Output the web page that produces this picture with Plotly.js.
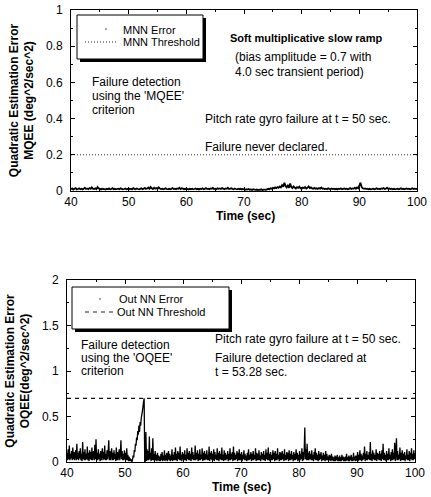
<!DOCTYPE html>
<html>
<head>
<meta charset="utf-8">
<script src="https://cdn.plot.ly/plotly-3.0.1.min.js"></script>
<style>html,body{margin:0;padding:0;background:#fff;}#chart{width:431px;height:497px;}</style>
</head>
<body>
<div id="chart"></div>
<script>
// Sampling grids (start, step in sec)
const topStart = 40, topStep = 0.2;
const botStart = 40, botStep = 0.1;

// MQEE (top panel) values, deg^2/sec^2, every 0.2 sec from 40 to 100
const mqee = [
0.010,0.014,0.008,0.012,0.016,0.009,0.011,0.015,0.010,0.013,
0.009,0.012,0.018,0.011,0.014,0.010,0.016,0.012,0.020,0.013,
0.011,0.015,0.010,0.022,0.014,0.012,0.009,0.013,0.011,0.010,
0.008,0.012,0.010,0.014,0.009,0.011,0.016,0.010,0.012,0.009,
0.011,0.013,0.010,0.015,0.012,0.009,0.011,0.014,0.010,0.012,
0.009,0.013,0.011,0.010,0.016,0.012,0.010,0.014,0.011,0.009,
0.012,0.015,0.010,0.013,0.017,0.011,0.014,0.019,0.012,0.022,
0.015,0.011,0.018,0.013,0.016,0.012,0.020,0.014,0.011,0.013,
0.010,0.012,0.015,0.011,0.009,0.013,0.010,0.012,0.016,0.011,
0.013,0.010,0.014,0.012,0.018,0.011,0.015,0.013,0.010,0.012,
0.009,0.011,0.008,0.012,0.010,0.013,0.009,0.011,0.014,0.010,
0.012,0.009,0.013,0.011,0.015,0.010,0.012,0.016,0.011,0.013,
0.010,0.014,0.012,0.017,0.011,0.013,0.010,0.015,0.012,0.014,
0.011,0.016,0.013,0.010,0.014,0.012,0.018,0.011,0.013,0.015,
0.012,0.010,0.014,0.011,0.009,0.013,0.010,0.012,0.008,0.011,
0.009,0.007,0.010,0.008,0.011,0.007,0.009,0.006,0.010,0.008,
0.006,0.008,0.005,0.007,0.006,0.009,0.005,0.007,0.008,0.006,
0.009,0.012,0.010,0.015,0.013,0.018,0.014,0.020,0.016,0.022,
0.018,0.025,0.020,0.032,0.024,0.045,0.028,0.020,0.030,0.018,
0.042,0.022,0.016,0.025,0.019,0.014,0.021,0.017,0.024,0.015,
0.013,0.019,0.016,0.022,0.014,0.018,0.025,0.016,0.020,0.014,
0.012,0.017,0.013,0.015,0.011,0.016,0.013,0.019,0.012,0.014,
0.011,0.013,0.010,0.015,0.012,0.010,0.014,0.011,0.013,0.010,
0.012,0.009,0.013,0.011,0.015,0.010,0.012,0.014,0.011,0.013,
0.010,0.012,0.016,0.011,0.014,0.012,0.018,0.013,0.020,0.015,
0.030,0.046,0.022,0.015,0.012,0.014,0.011,0.013,0.010,0.012,
0.009,0.011,0.013,0.010,0.012,0.015,0.011,0.013,0.010,0.014,
0.012,0.016,0.011,0.013,0.018,0.012,0.014,0.011,0.013,0.010,
0.012,0.009,0.011,0.013,0.010,0.012,0.015,0.011,0.013,0.010,
0.012,0.014,0.011,0.013,0.010,0.012,0.015,0.011,0.013,0.012,
0.011
];

// OQEE (bottom panel) values, deg^2/sec^2, every 0.1 sec from 40 to 100
const oqee = [
0.10,0.02,0.14,0.03,0.18,0.02,0.09,0.04,0.12,0.02,
0.16,0.03,0.11,0.02,0.08,0.13,0.02,0.20,0.03,0.10,
0.02,0.12,0.04,0.15,0.02,0.09,0.01,0.22,0.03,0.11,
0.02,0.14,0.02,0.09,0.03,0.17,0.02,0.10,0.01,0.13,
0.03,0.11,0.02,0.16,0.02,0.08,0.12,0.02,0.19,0.03,
0.25,0.02,0.10,0.02,0.14,0.03,0.09,0.01,0.12,0.02,
0.08,0.15,0.02,0.11,0.03,0.18,0.02,0.09,0.02,0.13,
0.03,0.10,0.24,0.02,0.12,0.02,0.08,0.15,0.02,0.10,
0.02,0.13,0.03,0.09,0.01,0.16,0.02,0.11,0.02,0.08,
0.14,0.02,0.10,0.24,0.03,0.12,0.02,0.09,0.02,0.13,
0.03,0.10,0.02,0.15,0.02,0.08,0.01,0.06,0.01,0.04,
0.01,0.03,0.00,0.03,0.07,0.05,0.13,0.11,0.20,0.18,
0.27,0.24,0.34,0.30,0.40,0.33,0.44,0.40,0.48,0.52,
0.56,0.61,0.66,0.70,0.00,0.01,0.33,0.01,0.14,0.02,
0.12,0.02,0.28,0.03,0.10,0.01,0.15,0.02,0.26,0.02,
0.09,0.01,0.12,0.02,0.08,0.01,0.10,0.02,0.07,0.01,
0.06,0.01,0.09,0.02,0.11,0.01,0.07,0.02,0.13,0.01,
0.08,0.02,0.10,0.01,0.06,0.12,0.02,0.09,0.01,0.07,
0.02,0.14,0.01,0.08,0.02,0.11,0.02,0.16,0.02,0.09,
0.01,0.12,0.03,0.10,0.02,0.17,0.02,0.08,0.01,0.11,
0.03,0.09,0.02,0.13,0.02,0.08,0.01,0.15,0.03,0.10,
0.02,0.12,0.02,0.09,0.01,0.16,0.03,0.11,0.02,0.08,
0.02,0.18,0.02,0.10,0.03,0.13,0.01,0.09,0.02,0.14,
0.02,0.08,0.03,0.15,0.01,0.10,0.02,0.12,0.02,0.09,
0.03,0.13,0.02,0.08,0.02,0.17,0.01,0.10,0.03,0.12,
0.02,0.09,0.02,0.14,0.01,0.11,0.03,0.08,0.02,0.15,
0.02,0.10,0.01,0.12,0.03,0.09,0.02,0.16,0.02,0.08,
0.01,0.13,0.02,0.10,0.02,0.08,0.03,0.12,0.01,0.09,
0.02,0.15,0.02,0.09,0.03,0.11,0.01,0.17,0.02,0.10,
0.02,0.08,0.03,0.12,0.01,0.10,0.02,0.14,0.02,0.09,
0.02,0.11,0.01,0.08,0.03,0.13,0.02,0.09,0.02,0.07,
0.01,0.10,0.02,0.14,0.02,0.08,0.03,0.11,0.01,0.09,
0.02,0.12,0.02,0.08,0.03,0.15,0.01,0.10,0.02,0.09,
0.02,0.13,0.02,0.07,0.01,0.11,0.03,0.09,0.02,0.12,
0.02,0.08,0.01,0.14,0.03,0.10,0.02,0.16,0.02,0.09,
0.01,0.11,0.02,0.08,0.02,0.13,0.03,0.10,0.01,0.12,
0.02,0.09,0.02,0.15,0.03,0.08,0.01,0.11,0.02,0.10,
0.02,0.12,0.03,0.09,0.01,0.14,0.02,0.08,0.02,0.11,
0.03,0.10,0.01,0.13,0.02,0.09,0.02,0.12,0.03,0.08,
0.01,0.11,0.02,0.09,0.02,0.14,0.03,0.10,0.01,0.08,
0.02,0.12,0.02,0.09,0.03,0.15,0.01,0.11,0.02,0.13,
0.38,0.03,0.14,0.02,0.20,0.02,0.10,0.02,0.12,0.03,
0.09,0.02,0.13,0.02,0.08,0.01,0.11,0.03,0.15,0.02,
0.10,0.02,0.08,0.01,0.12,0.02,0.09,0.03,0.11,0.01,
0.07,0.02,0.10,0.02,0.08,0.01,0.12,0.02,0.09,0.02,
0.06,0.01,0.08,0.02,0.07,0.01,0.09,0.02,0.06,0.01,
0.05,0.01,0.07,0.01,0.06,0.02,0.08,0.01,0.05,0.01,
0.07,0.01,0.05,0.01,0.08,0.02,0.06,0.01,0.05,0.01,
0.06,0.01,0.09,0.02,0.05,0.01,0.07,0.01,0.06,0.02,
0.08,0.01,0.05,0.01,0.10,0.02,0.06,0.01,0.07,0.02,
0.02,0.11,0.01,0.08,0.02,0.13,0.02,0.09,0.01,0.07,
0.02,0.10,0.03,0.17,0.01,0.09,0.02,0.12,0.02,0.08,
0.03,0.11,0.02,0.22,0.02,0.09,0.01,0.13,0.03,0.10,
0.02,0.08,0.02,0.14,0.01,0.10,0.03,0.09,0.02,0.12,
0.02,0.09,0.01,0.13,0.03,0.20,0.02,0.10,0.02,0.08,
0.01,0.12,0.02,0.09,0.02,0.15,0.03,0.08,0.01,0.11,
0.02,0.14,0.02,0.10,0.03,0.21,0.01,0.09,0.26,0.02,
0.12,0.02,0.08,0.03,0.16,0.01,0.10,0.02,0.13,0.02,
0.09,0.02,0.11,0.01,0.07,0.03,0.14,0.02,0.08,0.02,
0.12,0.01,0.10,0.03,0.15,0.02,0.09,0.02,0.13,0.03,
0.10
];

const thrX = [40, 100];
const mnnThreshold = [0.2, 0.2];
const outThreshold = [0.7, 0.7];

const legendTop = ['MNN Error', 'MNN Threshold'];
const legendBot = ['Out NN Error', 'Out NN Threshold'];

const timeTop = mqee.map((_, i) => +(topStart + i * topStep).toFixed(2));
const timeBot = oqee.map((_, i) => +(botStart + i * botStep).toFixed(2));

const FONT = 'Liberation Sans, Arial, sans-serif';
const W = 431, H = 497;
const px = v => v / W;          // pixel -> paper x
const py = v => 1 - v / H;      // pixel -> paper y

const traces = [
  {x: timeTop, y: mqee, type: 'scatter', mode: 'lines', line: {color: '#000', width: 1.8, simplify: false},
   xaxis: 'x', yaxis: 'y', showlegend: false, name: legendTop[0]},
  {x: thrX, y: mnnThreshold, type: 'scatter', mode: 'lines', line: {color: '#333', width: 1, dash: '1px,2px'},
   xaxis: 'x', yaxis: 'y', showlegend: false, name: legendTop[1]},
  {x: timeBot, y: oqee, type: 'scatter', mode: 'lines', line: {color: '#000', width: 1.3, simplify: false},
   xaxis: 'x2', yaxis: 'y2', showlegend: false, name: legendBot[0]},
  {x: thrX, y: outThreshold, type: 'scatter', mode: 'lines', line: {color: '#111', width: 1.2, dash: '4px,4px'},
   xaxis: 'x2', yaxis: 'y2', showlegend: false, name: legendBot[1]}
];

function xAx(domain, anchor) {
  return {domain: domain, anchor: anchor, range: [40, 100], dtick: 10, tick0: 40,
    showline: true, linecolor: '#000', linewidth: 1, mirror: 'ticks',
    ticks: 'inside', ticklen: 4, tickcolor: '#000', showgrid: false, zeroline: false,
    minor: {ticks: 'inside', ticklen: 2, dtick: 5, tickcolor: '#000'},
    tickfont: {family: FONT, size: 12, color: '#000'}};
}
function yAx(domain, anchor, range, dtick, mdtick, title) {
  return {domain: domain, anchor: anchor, range: range, dtick: dtick,
    showline: true, linecolor: '#000', linewidth: 1, mirror: 'ticks',
    ticks: 'inside', ticklen: 4, tickcolor: '#000', showgrid: false, zeroline: false,
    minor: {ticks: 'inside', ticklen: 2, dtick: mdtick, tickcolor: '#000'},
    ticklabelstandoff: 5,
    tickfont: {family: FONT, size: 12, color: '#000'},
    title: {text: title, font: {family: FONT, size: 12, color: '#000', weight: 'bold'}, standoff: 9}};
}

function ann(text, x, y, xref, yref, opts) {
  opts = opts || {};
  return {text: text, x: x, y: y, xref: xref, yref: yref, xanchor: opts.xanchor || 'left', yanchor: 'middle',
    showarrow: false, font: {family: FONT, size: opts.size || 12, color: '#000', weight: opts.bold ? 'bold' : 'normal'}};
}

// framed legend boxes with drop shadow (pixel geometry)
function legendShapes(box, sample, dash, dot) {
  const [x0, y0, x1, y1] = box;
  return [
    {type: 'rect', xref: 'paper', yref: 'paper', layer: 'above',
     x0: px(x0 + 3), x1: px(x1 + 3), y0: py(y1 + 3), y1: py(y0 + 3), fillcolor: '#000', line: {width: 0}},
    {type: 'rect', xref: 'paper', yref: 'paper', layer: 'above',
     x0: px(x0), x1: px(x1), y0: py(y1), y1: py(y0), fillcolor: '#fff', line: {color: '#000', width: 1}},
    {type: 'line', xref: 'paper', yref: 'paper', layer: 'above',
     x0: px(sample[0]), x1: px(sample[1]), y0: py(sample[2]), y1: py(sample[2]),
     line: {color: '#222', width: 1.1, dash: dash}},
    {type: 'rect', xref: 'paper', yref: 'paper', layer: 'above',
     x0: px(dot[0] - 1), x1: px(dot[0] + 1), y0: py(dot[1] + 1), y1: py(dot[1] - 1),
     fillcolor: '#aaa', line: {width: 0}}
  ];
}

const layout = {
  width: W, height: H, margin: {l: 0, r: 0, t: 0, b: 0},
  paper_bgcolor: '#fff', plot_bgcolor: '#fff', showlegend: false,
  font: {family: FONT, color: '#000'},
  xaxis: xAx([px(71), px(417)], 'y'),
  yaxis: yAx([py(191), py(10)], 'x', [0, 1], 0.2, 0.1,
    'Quadratic Estimation Error<br>MQEE (deg^2/sec^2)'),
  xaxis2: xAx([px(67), px(415)], 'y2'),
  yaxis2: yAx([py(462), py(280)], 'x2', [0, 2], 0.5, 0.25,
    'Quadratic Estimation Error<br>OQEE(deg^2/sec^2)'),
  shapes: [].concat(
    legendShapes([77, 15, 203, 59], [85, 118, 42], '1px,2px', [106, 29]),
    legendShapes([72, 287, 229, 329], [85, 113, 312], '4px,4px', [100, 299])
  ),
  annotations: [
    // legend texts
    ann(legendTop[0], px(121), py(30), 'paper', 'paper', {size: 11}),
    ann(legendTop[1], px(121), py(42), 'paper', 'paper', {size: 11}),
    ann(legendBot[0], px(117), py(299), 'paper', 'paper', {size: 11}),
    ann(legendBot[1], px(115), py(312), 'paper', 'paper', {size: 11}),
    // x-axis titles
    ann('Time (sec)', px(246), py(216), 'paper', 'paper', {bold: true, xanchor: 'center'}),
    ann('Time (sec)', px(241), py(487), 'paper', 'paper', {bold: true, xanchor: 'center'}),
    // top panel notes
    ann('Soft multiplicative slow ramp', 67.2, 0.845, 'x', 'y', {bold: true, size: 11}),
    ann('(bias amplitude = 0.7 with', 68.1, 0.740, 'x', 'y'),
    ann('4.0 sec transient period)', 68.1, 0.657, 'x', 'y'),
    ann('Failure detection', 43.3, 0.602, 'x', 'y'),
    ann("using the 'MQEE'", 43.3, 0.525, 'x', 'y'),
    ann('criterion', 43.3, 0.448, 'x', 'y'),
    ann('Pitch rate gyro failure at t = 50 sec.', 62.9, 0.398, 'x', 'y'),
    ann('Failure never declared.', 62.9, 0.243, 'x', 'y'),
    // bottom panel notes
    ann('Pitch rate gyro failure at t = 50 sec.', 65.1, 1.348, 'x2', 'y2'),
    ann('Failure detection declared at', 65.2, 1.146, 'x2', 'y2'),
    ann('t = 53.28 sec.', 65.2, 0.989, 'x2', 'y2'),
    ann('Failure detection', 42.1, 1.286, 'x2', 'y2'),
    ann("using the 'OQEE'", 42.1, 1.143, 'x2', 'y2'),
    ann('criterion', 42.1, 1.000, 'x2', 'y2')
  ]
};

Plotly.newPlot('chart', traces, layout, {displayModeBar: false, staticPlot: true});
</script>
</body>
</html>
